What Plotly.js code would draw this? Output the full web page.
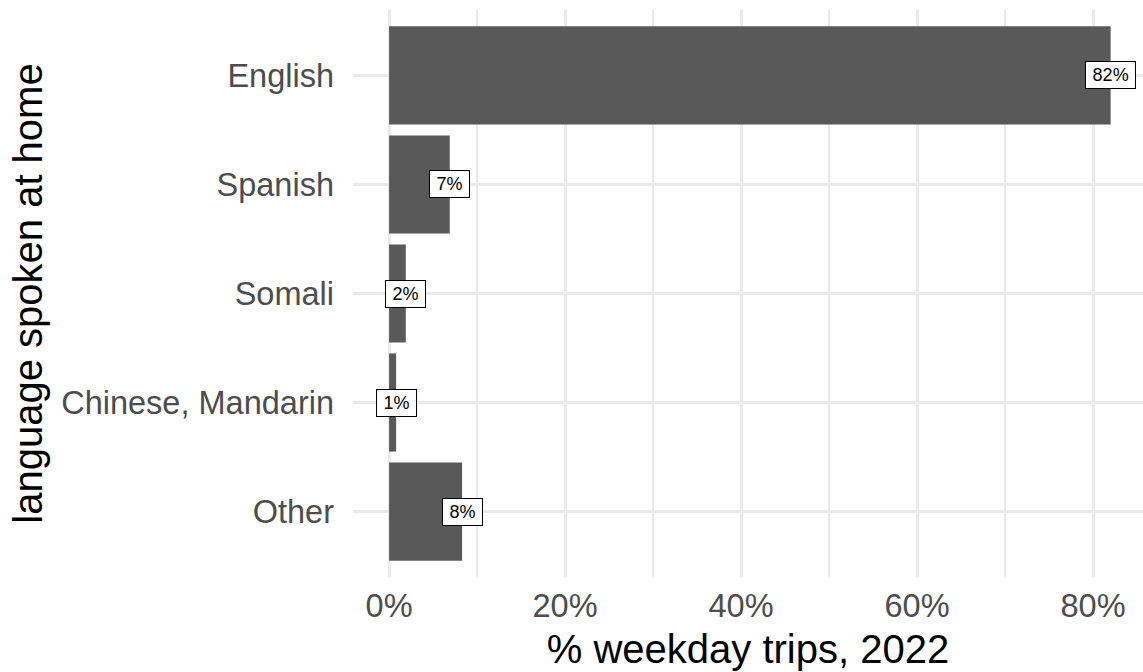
<!DOCTYPE html>
<html>
<head>
<meta charset="utf-8">
<script src="https://cdn.plot.ly/plotly-3.0.1.min.js"></script>
<style>
  html, body { margin: 0; padding: 0; background: #ffffff; }
  #chart { width: 1143px; height: 672px; }
</style>
</head>
<body>
<div id="chart"></div>
<script>
// Share of weekday trips by language spoken at home, 2022
const languages = ["English", "Spanish", "Somali", "Chinese, Mandarin", "Other"];
const shares = [0.82, 0.069, 0.019, 0.008, 0.083];
const xTickVals = [0, 0.2, 0.4, 0.6, 0.8];
const xTickText = ["0%", "20%", "40%", "60%", "80%"];

const FONT = "Liberation Sans, Arial, Helvetica, sans-serif";
const GRID = "#EBEBEB";
const THIN = "\u2009";

const bars = {
  type: "bar",
  orientation: "h",
  x: shares,
  y: languages,
  width: 0.9,
  marker: { color: "#595959", line: { width: 0 } },
  hoverinfo: "skip"
};

// Boxed value labels sitting at the end of each bar
const labels = languages.map((lang, i) => ({
  x: shares[i],
  y: lang,
  xref: "x",
  yref: "y",
  text: THIN + Math.round(shares[i] * 100) + "%" + THIN,
  showarrow: false,
  xanchor: "center",
  yanchor: "middle",
  font: { family: FONT, size: 18, color: "#000000" },
  bgcolor: "#ffffff",
  bordercolor: "#000000",
  borderwidth: 1,
  borderpad: 3
}));

const layout = {
  width: 1143,
  height: 672,
  margin: { l: 353, r: 0, t: 10, b: 95 },
  paper_bgcolor: "#ffffff",
  plot_bgcolor: "#ffffff",
  showlegend: false,
  font: { family: FONT },
  xaxis: {
    range: [-0.041, 0.8568],
    tickvals: xTickVals,
    ticktext: xTickText,
    showgrid: true,
    gridcolor: GRID,
    gridwidth: 3,
    zeroline: false,
    showline: false,
    ticks: "",
    tickfont: { family: FONT, size: 32.5, color: "#4D4D4D" },
    ticklabelstandoff: 6,
    minor: { dtick: 0.1, tick0: 0, showgrid: true, gridcolor: GRID, gridwidth: 1.5 },
    title: { text: "% weekday trips, 2022", font: { family: FONT, size: 40, color: "#000000" }, standoff: 12 },
    fixedrange: true
  },
  yaxis: {
    type: "category",
    categoryorder: "array",
    categoryarray: languages,
    range: [4.6, -0.6],
    showgrid: true,
    gridcolor: GRID,
    gridwidth: 3,
    zeroline: false,
    showline: false,
    ticks: "",
    tickfont: { family: FONT, size: 32.5, color: "#4D4D4D" },
    ticklabelstandoff: 18,
    title: { text: "language spoken at home", font: { family: FONT, size: 40, color: "#000000" }, standoff: 6 },
    fixedrange: true
  },
  annotations: labels
};

Plotly.newPlot("chart", [bars], layout, { staticPlot: true, displayModeBar: false });
</script>
</body>
</html>
